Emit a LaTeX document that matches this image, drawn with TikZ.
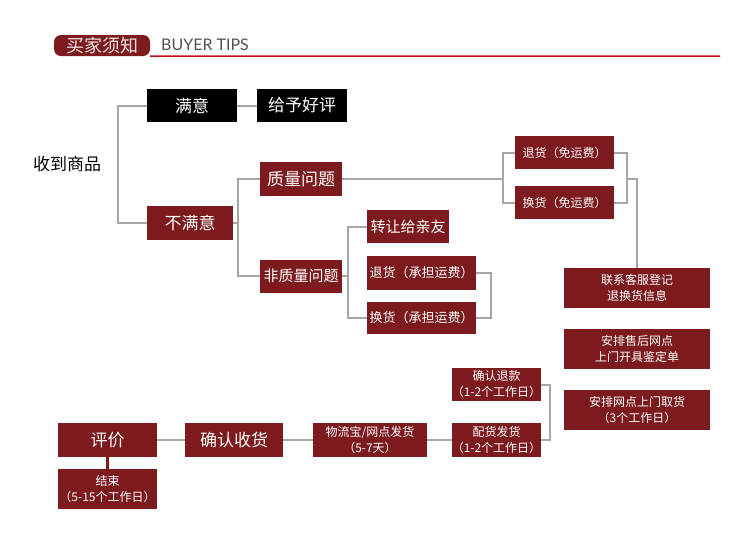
\documentclass[tikz,border=0pt]{standalone}
\usepackage{fontspec}
\setmainfont{Noto Sans CJK SC}
\newfontfamily\tipsfont{Lato}
\definecolor{boxred}{HTML}{7D1A1D}
\definecolor{linegray}{HTML}{A6A6A6}
\definecolor{headred}{HTML}{C8101A}

\begin{document}
\begin{tikzpicture}[x=1pt,y=-1pt,
    redbox/.style={fill=boxred,text=white,inner sep=0pt,align=center},
    blackbox/.style={redbox,fill=black},
    big/.style={font=\fontsize{17}{20}\selectfont},
    mid/.style={font=\fontsize{13}{16}\selectfont},
    small/.style={font=\fontsize{12}{16}\selectfont},
    link/.style={draw=linegray,line width=2pt}]
  \useasboundingbox (0,0) rectangle (750,550);

  % Header tag and rule
  \node at (102,45.5) [fill=boxred,rounded corners=7pt,text=white!88!boxred,
    minimum width=96,minimum height=21,inner sep=0pt,font=\fontsize{18}{20}\selectfont] (tag) {买家须知};
  \node at (161,45) [anchor=west,text=black!68,inner sep=0pt,font=\tipsfont\fontsize{16}{18}\selectfont] (tips) {BUYER TIPS};
  \coordinate (hend) at (720,56);
  \draw [headred,line width=1.5pt] (tag.south east) -- (hend);

  % Top branch: received goods
  \node at (67,164) [big] (shoudao) {收到商品};
  \node at (192,105.5) [blackbox,big,minimum width=90,minimum height=33] (manyi) {满意};
  \node at (302,105.5) [blackbox,big,minimum width=90,minimum height=33] (haoping) {给予好评};
  \node at (190,223) [redbox,big,minimum width=86,minimum height=34] (buman) {不满意};
  \node at (301,179) [redbox,big,minimum width=82,minimum height=34] (zhiliang) {质量问题};
  \node at (301,276) [redbox,font=\fontsize{15}{18}\selectfont,minimum width=82,minimum height=33] (feizhiliang) {非质量问题};
  \node at (408,226.5) [redbox,font=\fontsize{15}{18}\selectfont,minimum width=82,minimum height=33] (zhuanrang) {转让给亲友};
  \node at (421.5,273) [redbox,mid,minimum width=109,minimum height=34] (tuihuoA) {退货（承担运费）};
  \node at (421.5,318) [redbox,mid,minimum width=109,minimum height=32] (huanhuoA) {换货（承担运费）};
  \node at (564.5,152.5) [redbox,small,minimum width=99,minimum height=33] (tuihuoB) {退货（免运费）};
  \node at (564.5,202.5) [redbox,small,minimum width=99,minimum height=33] (huanhuoB) {换货（免运费）};

  % Right column
  \node at (637,288) [redbox,small,minimum width=146,minimum height=40] (lianxi) {联系客服登记\\退换货信息};
  \node at (637,349) [redbox,small,minimum width=146,minimum height=40] (anpai) {安排售后网点\\上门开具鉴定单};
  \node at (637,410) [redbox,small,minimum width=146,minimum height=40] (quhuo) {安排网点上门取货\\（3个工作日）};

  % Bottom row
  \node at (496.5,384.5) [redbox,small,minimum width=85,minimum height=33] (tuikuan) {确认退款\\（1-2个工作日）};
  \node at (496.5,440) [redbox,small,minimum width=85,minimum height=34] (peihuo) {配货发货\\（1-2个工作日）};
  \node at (370,440) [redbox,small,minimum width=114,minimum height=34] (wuliu) {物流宝/网点发货\\（5-7天）};
  \node at (234,440) [redbox,big,minimum width=98,minimum height=34] (queren) {确认收货};
  \node at (107.5,440) [redbox,big,minimum width=99,minimum height=34] (pingjia) {评价};
  \node at (107.5,489) [redbox,small,minimum width=99,minimum height=40] (jieshu) {结束\\（5-15个工作日）};

  % Bracket spines
  \coordinate (s1) at (118,164);
  \coordinate (s2) at (238,223);
  \coordinate (s3) at (348,276);
  \coordinate (s4) at (491,297);
  \coordinate (s5) at (503,179);
  \coordinate (s6) at (627,179);
  \coordinate (s7) at (550,410);

  % Connectors
  \draw [link] (manyi) -- (haoping);
  \draw [link] (manyi.west) -| (s1) |- (buman.west);
  \draw [link] (buman.east) -- (s2);
  \draw [link] (zhiliang.west) -| (s2) |- (feizhiliang.west);
  \draw [link] (feizhiliang.east) -- (s3);
  \draw [link] (zhuanrang.west) -| (s3) |- (huanhuoA.west);
  \draw [link] (tuihuoA.east) -| (s4) |- (huanhuoA.east);
  \draw [link] (zhiliang.east) -- (s5);
  \draw [link] (tuihuoB.west) -| (s5) |- (huanhuoB.west);
  \draw [link] (tuihuoB.east) -| (s6) |- (huanhuoB.east);
  \draw [link] (s6) -| (lianxi.north);
  \draw [link] (tuikuan.east) -| (s7) |- (peihuo.east);
  \draw [link] (peihuo) -- (wuliu);
  \draw [link] (wuliu) -- (queren);
  \draw [link] (queren) -- (pingjia);
  \draw [boxred,line width=3pt] (pingjia.south) -- (jieshu.north);
\end{tikzpicture}
\end{document}
